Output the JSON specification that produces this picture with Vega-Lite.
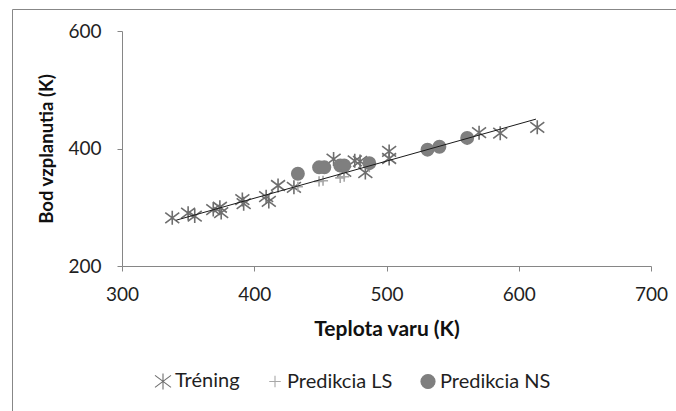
{
  "$schema": "https://vega.github.io/schema/vega-lite/v6.json",
  "width": 664,
  "height": 402,
  "autosize": "none",
  "padding": {"left": 12, "top": 9, "right": 0, "bottom": 0},
  "background": "white",
  "config": {
    "view": {"stroke": "#878787", "strokeWidth": 1},
    "font": "Lato",
    "axis": {
      "grid": false,
      "domainColor": "#868686",
      "tickColor": "#868686",
      "tickSize": 5,
      "labelFont": "Lato",
      "labelFontSize": 19,
      "labelColor": "#1f1f1f",
      "titleFont": "Lato",
      "titleFontWeight": "bold",
      "titleColor": "#111111",
      "labelFlush": false,
      "labelOverlap": false,
      "labelBound": false
    }
  },
  "datasets": {
    "pts": [
      {"s": "Tréning", "bp": 338, "fp": 282},
      {"s": "Tréning", "bp": 350, "fp": 290},
      {"s": "Tréning", "bp": 355, "fp": 285},
      {"s": "Tréning", "bp": 369, "fp": 296},
      {"s": "Tréning", "bp": 374, "fp": 300},
      {"s": "Tréning", "bp": 375, "fp": 291},
      {"s": "Tréning", "bp": 391, "fp": 313},
      {"s": "Tréning", "bp": 392, "fp": 306},
      {"s": "Tréning", "bp": 409, "fp": 318},
      {"s": "Tréning", "bp": 411, "fp": 310},
      {"s": "Tréning", "bp": 418, "fp": 337},
      {"s": "Tréning", "bp": 430, "fp": 334},
      {"s": "Tréning", "bp": 460, "fp": 382},
      {"s": "Tréning", "bp": 468, "fp": 361},
      {"s": "Tréning", "bp": 476, "fp": 379},
      {"s": "Tréning", "bp": 480, "fp": 378},
      {"s": "Tréning", "bp": 484, "fp": 359},
      {"s": "Tréning", "bp": 502, "fp": 395},
      {"s": "Tréning", "bp": 502, "fp": 383},
      {"s": "Tréning", "bp": 570, "fp": 427},
      {"s": "Tréning", "bp": 586, "fp": 426},
      {"s": "Tréning", "bp": 614, "fp": 436},
      {"s": "Predikcia LS", "bp": 433, "fp": 335},
      {"s": "Predikcia LS", "bp": 449, "fp": 344},
      {"s": "Predikcia LS", "bp": 452, "fp": 345},
      {"s": "Predikcia LS", "bp": 465, "fp": 350},
      {"s": "Predikcia LS", "bp": 468, "fp": 352},
      {"s": "Predikcia LS", "bp": 487, "fp": 368},
      {"s": "Predikcia LS", "bp": 531, "fp": 396},
      {"s": "Predikcia LS", "bp": 540, "fp": 402},
      {"s": "Predikcia LS", "bp": 561, "fp": 415},
      {"s": "Predikcia NS", "bp": 433, "fp": 357},
      {"s": "Predikcia NS", "bp": 449, "fp": 368},
      {"s": "Predikcia NS", "bp": 453, "fp": 368},
      {"s": "Predikcia NS", "bp": 465, "fp": 371},
      {"s": "Predikcia NS", "bp": 468, "fp": 371},
      {"s": "Predikcia NS", "bp": 487, "fp": 375},
      {"s": "Predikcia NS", "bp": 531, "fp": 398},
      {"s": "Predikcia NS", "bp": 540, "fp": 403},
      {"s": "Predikcia NS", "bp": 561, "fp": 418}
    ],
    "fit": [
      {"bp": 341, "fp": 278},
      {"bp": 613, "fp": 450}
    ]
  },
  "encoding": {
    "x": {
      "field": "bp",
      "type": "quantitative",
      "scale": {"domain": [300, 700], "range": [110, 639], "nice": false, "zero": false},
      "axis": {"title": "Teplota varu (K)", "titleFontSize": 21, "values": [300, 400, 500, 600, 700], "offset": -145, "labelPadding": 14, "titlePadding": 14}
    },
    "y": {
      "field": "fp",
      "type": "quantitative",
      "scale": {"domain": [200, 600], "range": [257, 22], "nice": false, "zero": false},
      "axis": {"title": "Bod vzplanutia (K)", "titleFontSize": 18.5, "values": [200, 400, 600], "offset": -110, "labelPadding": 16, "titlePadding": 11}
    }
  },
  "layer": [
    {
      "data": {"name": "pts"},
      "mark": {"type": "point", "opacity": 1, "size": 196, "strokeWidth": 1.6},
      "encoding": {
        "shape": {
          "field": "s",
          "type": "nominal",
          "scale": {
            "domain": ["Tréning", "Predikcia LS", "Predikcia NS"],
            "range": [
              "M-1,-0.75L1,0.75M-1,0.75L1,-0.75M0,-1L0,1",
              "M-0.72,0L0.72,0M0,-0.72L0,0.72",
              "M0.88,0A0.88,0.88 0 1,1 -0.88,0A0.88,0.88 0 1,1 0.88,0Z"
            ]
          },
          "legend": {
            "title": null,
            "orient": "none",
            "direction": "horizontal",
            "legendX": 141,
            "legendY": 362,
            "labelFont": "Lato",
            "labelFontSize": 20,
            "labelColor": "#1f1f1f",
            "symbolSize": 256,
            "symbolStrokeWidth": 1.1,
            "columnPadding": 25,
            "labelOffset": 2
          }
        },
        "fill": {
          "field": "s",
          "type": "nominal",
          "scale": {"domain": ["Tréning", "Predikcia LS", "Predikcia NS"], "range": ["transparent", "transparent", "#7f7f7f"]}
        },
        "stroke": {
          "field": "s",
          "type": "nominal",
          "scale": {"domain": ["Tréning", "Predikcia LS", "Predikcia NS"], "range": ["#6e6e6e", "#a8a8a8", "#7f7f7f"]}
        }
      }
    },
    {
      "data": {"name": "fit"},
      "mark": {"type": "line", "color": "#1a1a1a", "strokeWidth": 1},
      "encoding": {}
    }
  ]
}
